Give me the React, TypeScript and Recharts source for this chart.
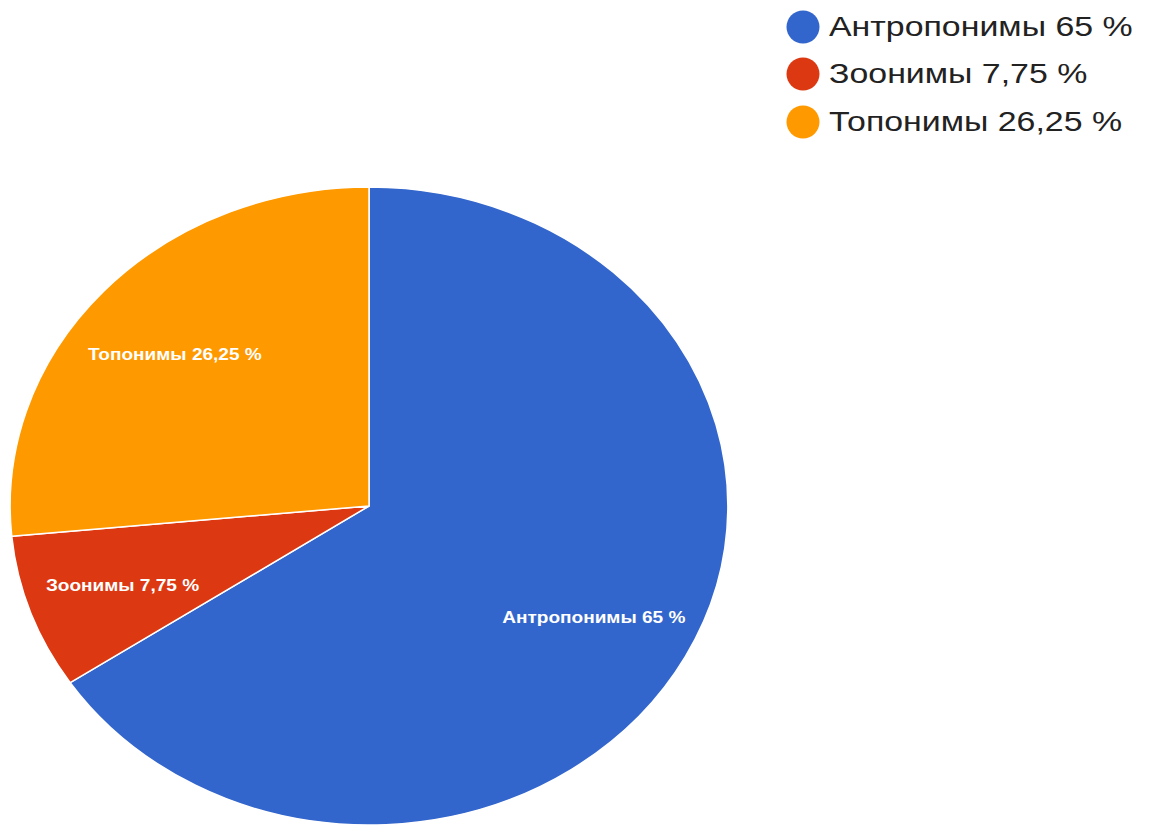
import React from 'react';
import { PieChart, Pie, Cell, Legend } from 'recharts';

const categories = ['Антропонимы', 'Зоонимы', 'Топонимы'];
const values = [65, 7.75, 26.25];
const colors = ['#3366CC', '#DC3912', '#FF9900'];

const data = categories.map((name, i) => ({ name, value: values[i] }));

const fmt = (v: number) => String(v).replace('.', ',');

const X_STRETCH = 1.125;
const RAD = Math.PI / 180;

const EllipseSector = (props: any) => {
  const { cx, cy, outerRadius, startAngle, endAngle, fill } = props;
  const ry = outerRadius;
  const rx = outerRadius * X_STRETCH;
  const p = (a: number) => [cx + rx * Math.cos(a * RAD), cy - ry * Math.sin(a * RAD)];
  const [x1, y1] = p(startAngle);
  const [x2, y2] = p(endAngle);
  const delta = Math.abs(endAngle - startAngle);
  const large = delta > 180 ? 1 : 0;
  const sweep = startAngle > endAngle ? 1 : 0;
  const d = `M ${cx} ${cy} L ${x1} ${y1} A ${rx} ${ry} 0 ${large} ${sweep} ${x2} ${y2} Z`;
  return <path d={d} fill={fill} stroke="#ffffff" strokeWidth={1.5} strokeLinejoin="round" />;
};

const renderLabel = (props: any) => {
  const { cx, cy, midAngle, outerRadius, name, value } = props;
  const f = 0.72;
  const x = cx + outerRadius * X_STRETCH * f * Math.cos(-midAngle * RAD) - 3;
  const y = cy + outerRadius * f * Math.sin(-midAngle * RAD) + 3;
  return (
    <g transform={`translate(${x},${y}) scale(1.19,1)`}>
      <text
        x={0}
        y={0}
        textAnchor="middle"
        dominantBaseline="central"
        fill="#ffffff"
        fontFamily="'Liberation Sans', Arial, sans-serif"
        fontWeight="bold"
        fontSize={16}
      >
        {`${name} ${fmt(value)} %`}
      </text>
    </g>
  );
};

const LegendContent = () => (
  <div style={{ fontFamily: "'Liberation Sans', Arial, sans-serif" }}>
    {categories.map((name, i) => (
      <div key={name} style={{ display: 'flex', alignItems: 'center', height: 47.5 }}>
        <svg width={34} height={34} style={{ marginRight: 9, flexShrink: 0 }}>
          <circle cx={17} cy={17} r={16.5} fill={colors[i]} />
        </svg>
        <span
          style={{
            display: 'inline-block',
            fontSize: 28,
            color: '#222222',
            whiteSpace: 'nowrap',
            transform: 'scaleX(1.21)',
            transformOrigin: 'left center',
          }}
        >
          {`${name} ${fmt(values[i])} %`}
        </span>
      </div>
    ))}
  </div>
);

export default function App() {
  return (
    <div style={{ position: 'absolute', left: 0, top: 0, width: 1149, height: 825, background: '#ffffff' }}>
      <PieChart width={1149} height={825} margin={{ top: 0, right: 0, bottom: 0, left: 0 }}>
        <Pie
          data={data}
          dataKey="value"
          nameKey="name"
          cx={369}
          cy={506}
          outerRadius={319}
          startAngle={90}
          endAngle={-270}
          isAnimationActive={false}
          label={renderLabel}
          labelLine={false}
          shape={EllipseSector}
          inactiveShape={EllipseSector}
          activeShape={EllipseSector}
        >
          {data.map((d, i) => (
            <Cell key={d.name} fill={colors[i]} />
          ))}
        </Pie>
        <Legend
          content={<LegendContent />}
          wrapperStyle={{ position: 'absolute', left: 786, top: 3, width: 360 }}
        />
      </PieChart>
    </div>
  );
}
